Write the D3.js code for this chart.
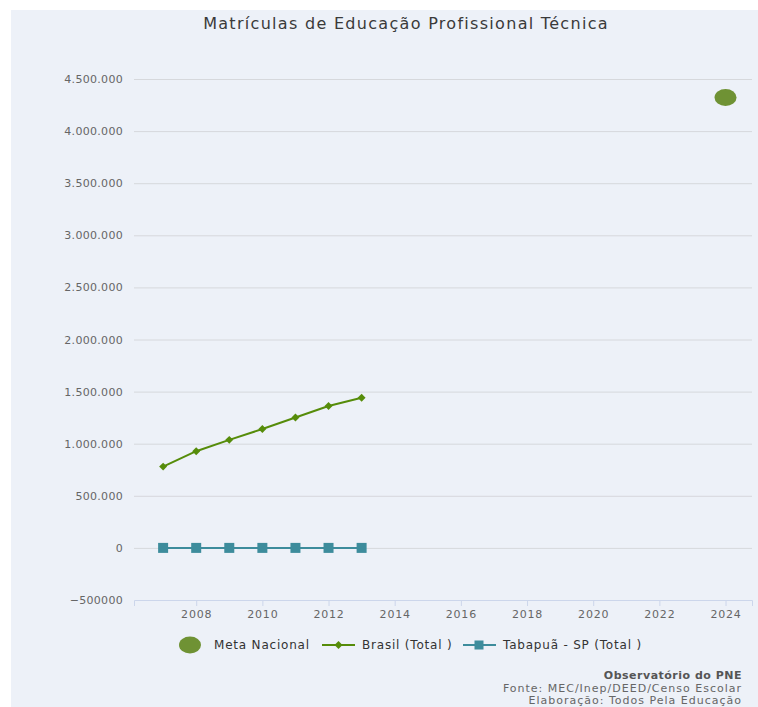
<!DOCTYPE html>
<html>
<head>
<meta charset="utf-8">
<script src="https://cdn.jsdelivr.net/npm/d3@7"></script>
<style>
  body { margin: 0; background: #fff; }
  svg { display: block; font-family: "DejaVu Sans", Verdana, sans-serif; }
</style>
</head>
<body>
<div id="chart"></div>
<script>
// values
let years = [2007, 2008, 2009, 2010, 2011, 2012, 2013]
let brasil = [780162, 927978, 1036945, 1140388, 1250900, 1362200, 1441051]
let tabapua = [0, 0, 0, 0, 0, 0, 0]
let metaYear = [2024]
let metaValue = [4323000]
let yTicks = [-500000, 0, 500000, 1000000, 1500000, 2000000, 2500000, 3000000, 3500000, 4000000, 4500000]
let xTicks = [2008, 2010, 2012, 2014, 2016, 2018, 2020, 2022, 2024]

let width = 758, height = 707
let margin = { top: 79, right: 6, bottom: 107, left: 134 },
  plot_width = width - margin.left - margin.right,
  plot_height = height - margin.top - margin.bottom

let green = '#568c0a', teal = '#3d8c9c', metaColor = '#6f9234'

let svg = d3.select('#chart').append('svg')
  .attr('width', width)
  .attr('height', height)

svg.append('rect')
  .attr('x', 11).attr('y', 10)
  .attr('width', width - 11).attr('height', height - 10)
  .attr('fill', '#edf1f8')

svg.append('text')
  .attr('x', 406).attr('y', 29)
  .attr('text-anchor', 'middle')
  .attr('font-size', '16px')
  .attr('fill', '#3a3a3a')
  .style('letter-spacing', '1.3px')
  .text('Matrículas de Educação Profissional Técnica')

let xScale = d3.scaleLinear()
  .domain([2006.12, 2024.8])
  .range([0, plot_width])

let yScale = d3.scaleLinear()
  .domain([-500000, 4500000])
  .range([plot_height, 0])

let plot = svg.append('g')
  .attr('transform', `translate(${margin.left},${margin.top})`)

function fmt(v) {
  if (v < 0) return '−' + String(-v)
  return d3.format(',')(v).replace(/,/g, '.')
}

// y grid + labels
let yAxis = d3.axisLeft(yScale)
  .tickValues(yTicks)
  .tickSize(-plot_width)
  .tickPadding(11)
  .tickFormat(fmt)

let yg = plot.append('g').call(yAxis)
yg.select('.domain').remove()
yg.selectAll('.tick line')
  .attr('stroke', '#d6d8dc')
  .attr('stroke-width', 1)
  .filter(d => d === -500000).remove()
yg.selectAll('.tick text')
  .attr('font-size', '11px')
  .attr('fill', '#666')
  .attr('font-family', '"DejaVu Sans", Verdana, sans-serif')
  .style('letter-spacing', '0.3px')

// x axis
let xAxis = d3.axisBottom(xScale)
  .tickValues(xTicks)
  .tickSize(6)
  .tickPadding(4)
  .tickFormat(d3.format('d'))

let xg = plot.append('g')
  .attr('transform', `translate(0,${plot_height})`)
  .call(xAxis)
xg.select('.domain').attr('stroke', '#ccd6eb')
xg.selectAll('.tick line').attr('stroke', '#ccd6eb')
xg.selectAll('.tick text')
  .attr('font-size', '11px')
  .attr('fill', '#666')
  .attr('font-family', '"DejaVu Sans", Verdana, sans-serif')
  .style('letter-spacing', '0.8px')

let line = d3.line()
  .x(d => xScale(d[0]))
  .y(d => yScale(d[1]))

// Tabapuã series
let tabData = years.map((y, i) => [y, tabapua[i]])
plot.append('path')
  .datum(tabData)
  .attr('d', line)
  .attr('fill', 'none')
  .attr('stroke', teal)
  .attr('stroke-width', 2)
plot.selectAll('.tab-pt')
  .data(tabData)
  .enter().append('rect')
  .attr('class', 'tab-pt')
  .attr('x', d => xScale(d[0]) - 5)
  .attr('y', d => yScale(d[1]) - 5)
  .attr('width', 10).attr('height', 10)
  .attr('fill', teal)

// Brasil series
let brData = years.map((y, i) => [y, brasil[i]])
plot.append('path')
  .datum(brData)
  .attr('d', line)
  .attr('fill', 'none')
  .attr('stroke', green)
  .attr('stroke-width', 2)
let diamond = d3.symbol().type(d3.symbolDiamond2).size(40)
plot.selectAll('.br-pt')
  .data(brData)
  .enter().append('path')
  .attr('class', 'br-pt')
  .attr('d', diamond)
  .attr('transform', d => `translate(${xScale(d[0])},${yScale(d[1])})`)
  .attr('fill', green)

// Meta nacional
plot.selectAll('.meta')
  .data(metaYear.map((y, i) => [y, metaValue[i]]))
  .enter().append('ellipse')
  .attr('cx', d => xScale(d[0]))
  .attr('cy', d => yScale(d[1]))
  .attr('rx', 11).attr('ry', 8.5)
  .attr('fill', metaColor)

// legend
let legend = svg.append('g')
  .attr('transform', 'translate(0,645)')
  .attr('font-size', '12px')
  .attr('fill', '#333')
  .style('letter-spacing', '0.8px')

legend.append('ellipse')
  .attr('cx', 190).attr('cy', 0).attr('rx', 11).attr('ry', 8.5)
  .attr('fill', metaColor)
legend.append('text').attr('x', 214).attr('y', 4).attr('fill', '#333').text('Meta Nacional')

legend.append('line')
  .attr('x1', 322).attr('x2', 355).attr('y1', 0).attr('y2', 0)
  .attr('stroke', green).attr('stroke-width', 2)
legend.append('path')
  .attr('d', diamond)
  .attr('transform', 'translate(338.5,0)')
  .attr('fill', green)
legend.append('text').attr('x', 362).attr('y', 4).attr('fill', '#333').text('Brasil (Total )')

legend.append('line')
  .attr('x1', 463).attr('x2', 496).attr('y1', 0).attr('y2', 0)
  .attr('stroke', teal).attr('stroke-width', 2)
legend.append('rect')
  .attr('x', 474.5).attr('y', -4.5).attr('width', 9).attr('height', 9)
  .attr('fill', teal)
legend.append('text').attr('x', 503).attr('y', 4).attr('fill', '#333').text('Tabapuã - SP (Total )')

// credits
let credits = svg.append('g')
  .attr('font-size', '11px')
  .attr('text-anchor', 'end')
credits.append('text').attr('x', 742).attr('y', 679)
  .attr('font-weight', 'bold').attr('fill', '#555')
  .style('letter-spacing', '0.5px').text('Observatório do PNE')
credits.append('text').attr('x', 742).attr('y', 692)
  .attr('fill', '#666')
  .style('letter-spacing', '1px').text('Fonte: MEC/Inep/DEED/Censo Escolar')
credits.append('text').attr('x', 742).attr('y', 704)
  .attr('fill', '#666')
  .style('letter-spacing', '1px').text('Elaboração: Todos Pela Educação')
</script>
</body>
</html>
